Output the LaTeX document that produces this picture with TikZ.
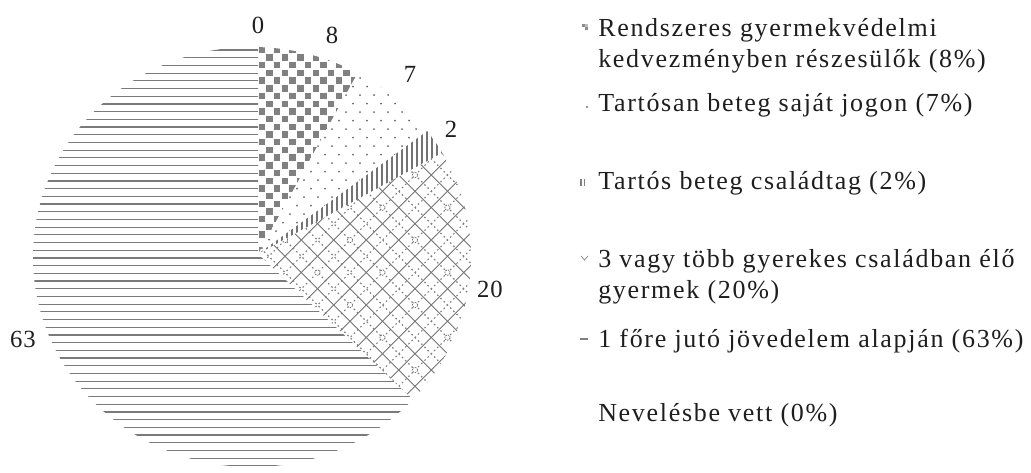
\documentclass[tikz,border=0pt]{standalone}
\usepackage{fontspec}
\setmainfont{Liberation Serif}
\newfontfamily\legfont{Liberation Serif}[LetterSpace=6.5]
\newfontfamily\labfont{Liberation Serif}[LetterSpace=4]
\definecolor{ink}{HTML}{1E1E1E}
\begin{document}
\begin{tikzpicture}[x=0.75pt,y=-0.75pt,
  legtext/.style={anchor=base west,inner sep=0pt,text=ink,font=\legfont\fontsize{19.5}{22}\selectfont},
  labtext/.style={anchor=base,inner sep=0pt,text=ink,font=\labfont\fontsize{18.5}{22}\selectfont},
  hline/.style={black!52,line width=0.9pt},
  ckfill/.style={fill=black!50},
  dotfill/.style={fill=black!60},
  vline/.style={black!55,line width=1.2pt},
  xsolid/.style={black!55,line width=0.75pt},
  xdot/.style={black!50,line width=0.8pt,dash pattern=on 1.2pt off 2.2pt},
  xcirc/.style={draw=black!55,fill=white,line width=0.6pt,dash pattern=on 1pt off 0.8pt}]
\useasboundingbox (0,0) rectangle (1031,472);
\fill[white] (0,0) rectangle (1031,472);

% pie geometry
\coordinate (P) at (258,254);
\coordinate (a90) at (258,-346);
\coordinate (a612) at (547.1,-271.8);
\coordinate (a36) at (743.4,-98.7);
\coordinate (a288) at (783.8,-35.1);
\coordinate (a0) at (858,254);
\coordinate (am432) at (695.4,664.7);
\coordinate (a270) at (258,854);
\coordinate (a180) at (-342,254);

\begin{scope}
\clip (252,257) ellipse [x radius=219, y radius=210];

% 63 % : horizontal lines
\begin{scope}
\clip (P) -- (am432) -- (a270) -- (a180) -- (a90) -- cycle;
\foreach \k in {0,...,55}{
  \draw[hline] (25,{50+\k*7.7}) -- (480,{50+\k*7.7});
}
\end{scope}

% 8 % : checkerboard
\begin{scope}
\clip (P) -- (a90) -- (a612) -- cycle;
\foreach \j in {0,...,27}{
  \pgfmathtruncatemacro\off{mod(\j,2)}
  \foreach \i in {0,2,...,16}{
    \fill[ckfill] ({258+(\i+\off)*7.7+0.6},{46+\j*7.7+0.6}) rectangle ({258+(\i+\off)*7.7+7.0},{46+\j*7.7+7.0});
  }
}
\end{scope}

% 7 % : sparse dots
\begin{scope}
\clip (P) -- (a612) -- (a36) -- cycle;
\foreach \j in {0,...,25}{
  \pgfmathtruncatemacro\off{mod(\j,2)}
  \foreach \i in {0,...,16}{
    \fill[dotfill] ({262+\i*14+\off*7},{44+\j*8.5}) circle[radius=0.75pt];
  }
}
\end{scope}

% 2 % : vertical lines
\begin{scope}
\clip (P) -- (a36) -- (a288) -- cycle;
\foreach \x in {262,267,...,477}{
  \draw[vline] (\x,100) -- (\x,262);
}
\end{scope}

% 20 % : crosshatch with dots and circles
\begin{scope}
\clip (P) -- (a288) -- (a0) -- (am432) -- cycle;
\foreach \k in {-10,...,8}{
  \pgfmathsetmacro\d{110+32.5*\k}
  \draw[xdot] (200,{200-\d}) -- (540,{540-\d});
}
\foreach \k in {-7,...,11}{
  \pgfmathsetmacro\s{590+32.5*\k}
  \draw[xdot] (200,{\s-200}) -- (540,{\s-540});
}
\foreach \k in {-10,...,8}{
  \pgfmathsetmacro\d{126.25+32.5*\k}
  \draw[xsolid] (200,{200-\d}) -- (540,{540-\d});
}
\foreach \k in {-7,...,11}{
  \pgfmathsetmacro\s{606.25+32.5*\k}
  \draw[xsolid] (200,{\s-200}) -- (540,{\s-540});
}
\foreach \m in {-5,...,4}{
  \foreach \n in {-4,...,6}{
    \pgfmathsetmacro\d{110+65*\m}
    \pgfmathsetmacro\s{590+65*\n}
    \draw[xcirc] ({(\s+\d)/2},{(\s-\d)/2}) circle[radius=2pt];
  }
}
\end{scope}
\end{scope}

% value labels
\node[labtext] (l0) at (258,33) {0};
\node[labtext] (l8) at (332,43) {8};
\node[labtext] (l7) at (410,82) {7};
\node[labtext] (l2) at (451,137) {2};
\node[labtext] (l20) at (490,297) {20};
\node[labtext] (l63) at (23,347) {63};

% legend markers
\fill[black!45] (582,24) rectangle (585,27);
\fill[black!45] (585,27) rectangle (588,30);
\fill[black!25] (585,24) rectangle (588,27);
\fill[black!55] (587,107) circle[radius=0.8pt];
\draw[black!50,line width=0.9pt] (581,179) -- (581,186);
\draw[black!50,line width=0.9pt] (584.5,179) -- (584.5,186);
\draw[black!45,line width=0.6pt] (581,256) -- (584.5,260) -- (588,256);
\draw[black!50,line width=0.9pt] (580,339) -- (588,339);

% legend texts
\node[legtext] (t1a) at (598,36) {Rendszeres gyermekvédelmi};
\node[legtext] (t1b) at (598,67) {kedvezményben részesülők (8\%)};
\node[legtext] (t2) at (598,111) {Tartósan beteg saját jogon (7\%)};
\node[legtext] (t3) at (598,189) {Tartós beteg családtag (2\%)};
\node[legtext] (t4a) at (598,267) {3 vagy több gyerekes családban élő};
\node[legtext] (t4b) at (598,298) {gyermek (20\%)};
\node[legtext] (t5) at (598,347) {1 főre jutó jövedelem alapján (63\%)};
\node[legtext] (t6) at (598,421) {Nevelésbe vett (0\%)};
\end{tikzpicture}
\end{document}
